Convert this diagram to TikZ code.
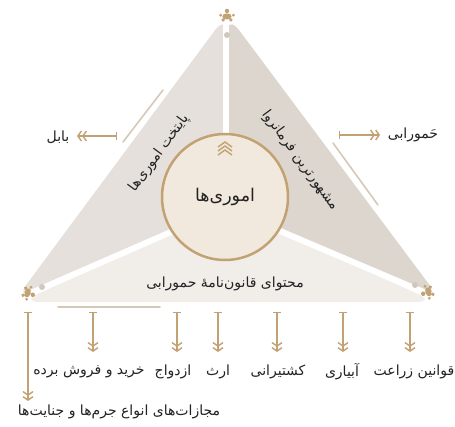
\documentclass[tikz,border=0pt]{standalone}
\usepackage{fontspec}
\newfontfamily\arabicfont[Script=Arabic]{DejaVu Sans}
\TeXXeTstate=1
\usetikzlibrary{arrows.meta,calc}
\definecolor{goldtan}{HTML}{C2A173}
\definecolor{leftgray}{HTML}{E5E0DB}
\definecolor{rightgray}{HTML}{DDD6CF}
\definecolor{bottomgray}{HTML}{F1EEEA}
\definecolor{corefill}{HTML}{F1E9DD}
\definecolor{dotgray}{HTML}{CFC8C1}
\definecolor{decoline}{HTML}{D6C8B6}
\definecolor{txt}{HTML}{222222}
\newcommand{\fatx}[1]{{\arabicfont\beginR #1\endR}}
\begin{document}
\begin{tikzpicture}[x=1pt,y=-1pt,
  lbl/.style={text=txt, inner sep=1pt, font=\fontsize{14}{16}\selectfont},
  flow/.style={draw=goldtan, line width=1.6pt,
    {Bar[width=8pt,line width=1.3pt]}-{Straight Barb[length=3.5pt,width=10pt,line width=1.4pt] Straight Barb[length=3.5pt,width=10pt,line width=1.4pt]}},
  gap/.style={draw=white, line width=6pt},
  orn/.pic={
    \fill[goldtan] (0,0.5) ellipse (5.5 and 3.6);
    \fill[goldtan] (0,-6) circle (2.6);
    \fill[goldtan] (-7.5,-1) circle (1.8);
    \fill[goldtan] (7.5,-1) circle (1.8);
    \fill[goldtan] (-4.5,4.5) circle (2.2);
    \fill[goldtan] (4.5,4.5) circle (2.2);
  }]
\useasboundingbox (0,0) rectangle (455,426);

% key points
\coordinate (T) at (227,14);
\coordinate (BL) at (15,300);
\coordinate (BR) at (440,299);
\coordinate (BLb) at (20,302);
\coordinate (BRb) at (436,302);
\coordinate (G) at (226,208);

% regions
\fill[leftgray, rounded corners=20pt] (T) -- (BL) -- (G) -- cycle;
\fill[rightgray, rounded corners=20pt] (T) -- (BR) -- (G) -- cycle;
\fill[bottomgray, rounded corners=20pt] (BLb) -- (BRb) -- (G) -- cycle;

% white gaps
\draw[gap] (G) -- (226,0);
\draw[gap] (G) -- ($(G)!1.15!(BL)$);
\draw[gap] (G) -- ($(G)!1.15!(BR)$);

% dots in the gaps
\fill[dotgray] (227,35) circle (3);
\fill[dotgray] (42,287) circle (3);
\fill[dotgray] (415,285) circle (3);

% ornaments
\pic[scale=0.85] at (227,16) {orn};
\pic[scale=0.85, rotate=-110] at (28,293) {orn};
\pic[scale=0.85, rotate=110] at (428,292) {orn};

% decorative lines
\draw[decoline, line width=1.6pt, line cap=round] (123,142) -- (163,90);
\draw[decoline, line width=1.6pt, line cap=round] (333,143) -- (378,205);
\draw[decoline, line width=1.6pt, line cap=round] (58,307) -- (160,307);

% center
\node[circle, draw=goldtan, fill=corefill, line width=2.5pt, minimum size=126pt, inner sep=0pt,
  text=txt, font=\fontsize{17.5}{20}\selectfont] (core) at (225,197) {\fatx{اموری‌ها}};
\foreach \i in {0,1,2} {
  \draw[goldtan, line width=1.4pt] (218,{147+4*\i}) -- (225,{142+4*\i}) -- (232,{147+4*\i});
}

% region texts
\node[lbl, rotate=53.7] (capital) at (159,153) {\fatx{پایتخت اموری‌ها}};
\node[lbl, rotate=-53.6] (ruler) at (300,160) {\fatx{مشهورترین فرمانروا}};
\node[lbl] (content) at (225,284) {\fatx{محتوای قانون‌نامهٔ حمورابی}};

% side labels
\node[lbl] (babel) at (58,137) {\fatx{بابل}};
\node[lbl] (hamm) at (413,135) {\fatx{حَمورابی}};
\coordinate (babelT) at (117,136);
\coordinate (babelH) at (77,136);
\coordinate (hammT) at (339,135);
\coordinate (hammH) at (380,135);
\draw[flow] (babelT) -- (babelH);
\draw[flow] (hammT) -- (hammH);

% bottom labels
\node[lbl] (l1) at (414,372) {\fatx{قوانین زراعت}};
\node[lbl] (l2) at (342,372) {\fatx{آبیاری}};
\node[lbl] (l3) at (278,372) {\fatx{کشتیرانی}};
\node[lbl] (l4) at (218,372) {\fatx{ارث}};
\node[lbl] (l5) at (173,372) {\fatx{ازدواج}};
\node[lbl] (l6) at (89,372) {\fatx{خرید و فروش برده}};
\node[lbl] (l7) at (119,412) {\fatx{مجازات‌های انواع جرم‌ها و جنایت‌ها}};

\foreach \n/\x in {1/410,2/343,3/277,4/218,5/177,6/93} {
  \coordinate (t\n) at (\x,312);
  \coordinate (h\n) at (\x,352);
  \draw[flow] (t\n) -- (h\n);
}
\coordinate (t7) at (28,312);
\coordinate (h7) at (28,401);
\draw[flow] (t7) -- (h7);
\end{tikzpicture}
\end{document}
